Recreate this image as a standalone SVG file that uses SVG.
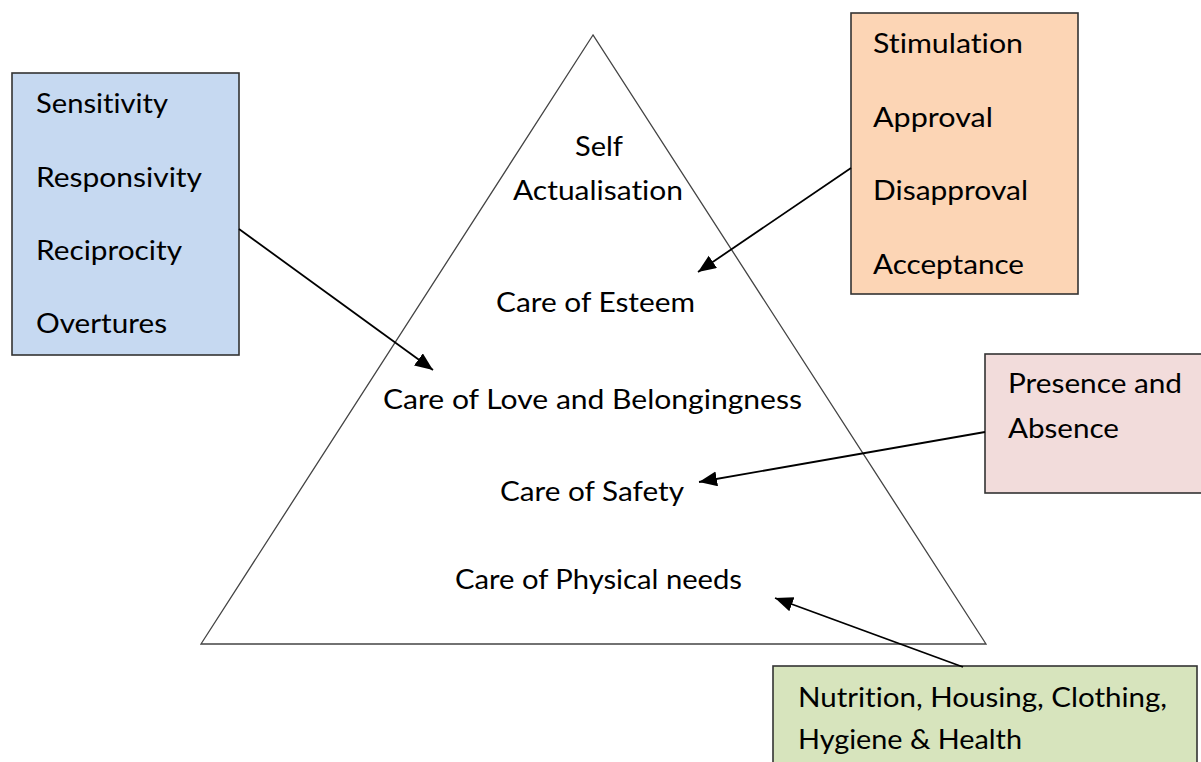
<svg xmlns="http://www.w3.org/2000/svg" width="1201" height="762" viewBox="0 0 1201 762">
<style>
text{font-family:Lato,"Open Sans","Liberation Sans",sans-serif;font-size:26px;fill:#000;font-variant-ligatures:none}
.box{stroke:#333;stroke-width:1.6}
.conn{stroke:#000;stroke-width:1.8;fill:none;marker-end:url(#ah)}
</style>
<defs>
<marker id="ah" markerUnits="userSpaceOnUse" markerWidth="20" markerHeight="16" refX="18" refY="7.5" orient="auto">
<path d="M0,0 L18,7.5 L0,15 z" fill="#000"/>
</marker>
</defs>
<rect width="1201" height="762" fill="#fff"/>
<g id="pyramid">
<polygon points="593,35 201,644 986,644" fill="none" stroke="#444" stroke-width="1.3"/>
<text x="599" y="156" text-anchor="middle" textLength="48" lengthAdjust="spacingAndGlyphs">Self</text>
<text x="598" y="200" text-anchor="middle" textLength="170" lengthAdjust="spacingAndGlyphs">Actualisation</text>
<text x="595.5" y="312" text-anchor="middle" textLength="199" lengthAdjust="spacingAndGlyphs">Care of Esteem</text>
<text x="592.5" y="409" text-anchor="middle" textLength="419" lengthAdjust="spacingAndGlyphs">Care of Love and Belongingness</text>
<text x="592" y="501" text-anchor="middle" textLength="184" lengthAdjust="spacingAndGlyphs">Care of Safety</text>
<text x="598.5" y="589" text-anchor="middle" textLength="287" lengthAdjust="spacingAndGlyphs">Care of Physical needs</text>
</g>
<g id="box-blue">
<rect class="box" x="12" y="73" width="227" height="282" fill="#c6d9f1"/>
<text x="36" y="113" textLength="132" lengthAdjust="spacingAndGlyphs">Sensitivity</text>
<text x="36" y="187" textLength="166" lengthAdjust="spacingAndGlyphs">Responsivity</text>
<text x="36" y="260" textLength="146" lengthAdjust="spacingAndGlyphs">Reciprocity</text>
<text x="36" y="333" textLength="131" lengthAdjust="spacingAndGlyphs">Overtures</text>
</g>
<g id="box-orange">
<rect class="box" x="851" y="13" width="227" height="281" fill="#fcd5b5"/>
<text x="873" y="53" textLength="150" lengthAdjust="spacingAndGlyphs">Stimulation</text>
<text x="873" y="127" textLength="120" lengthAdjust="spacingAndGlyphs">Approval</text>
<text x="873" y="200" textLength="155" lengthAdjust="spacingAndGlyphs">Disapproval</text>
<text x="873" y="274" textLength="151" lengthAdjust="spacingAndGlyphs">Acceptance</text>
</g>
<g id="box-pink">
<rect class="box" x="985" y="354" width="230" height="139" fill="#f2dcdb"/>
<text x="1008" y="393" textLength="174" lengthAdjust="spacingAndGlyphs">Presence and</text>
<text x="1008" y="438" textLength="111" lengthAdjust="spacingAndGlyphs">Absence</text>
</g>
<g id="box-green">
<rect class="box" x="773" y="666" width="424" height="110" fill="#d7e4bd"/>
<text x="798" y="707" textLength="369" lengthAdjust="spacingAndGlyphs">Nutrition, Housing, Clothing,</text>
<text x="798" y="749" textLength="224" lengthAdjust="spacingAndGlyphs">Hygiene &amp; Health</text>
</g>
<g id="connectors">
<line class="conn" x1="239" y1="229" x2="433" y2="370"/>
<line class="conn" x1="851" y1="168" x2="698" y2="272"/>
<line class="conn" x1="985" y1="432" x2="699" y2="482"/>
<line class="conn" x1="963" y1="667" x2="775" y2="598"/>
</g>
</svg>
